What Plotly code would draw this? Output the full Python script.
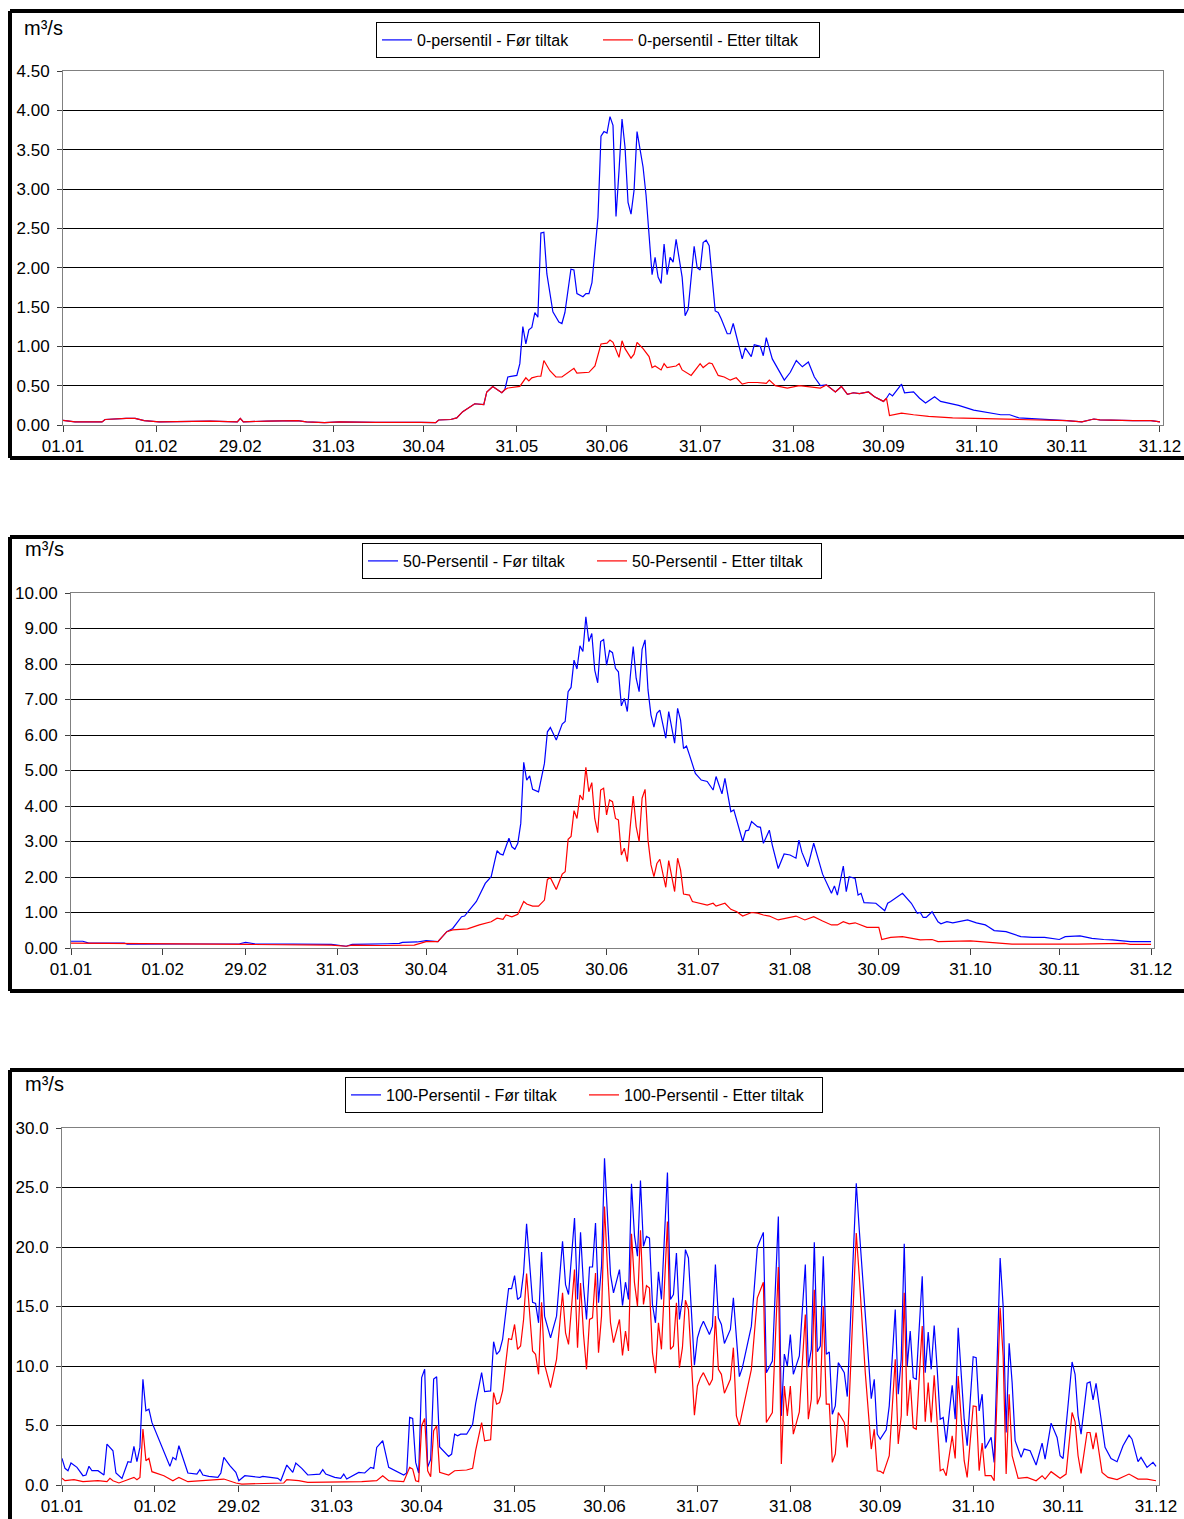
import plotly.graph_objects as go

W, H = 1184, 1519
FONT = "Liberation Sans, Arial, sans-serif"
BLUE = "#0000FF"
RED = "#FF0000"

tick_days = [0, 31, 59, 90, 120, 151, 181, 212, 243, 273, 304, 334, 365]
tick_labels = ["01.01", "01.02", "29.02", "31.03", "30.04", "31.05", "30.06",
               "31.07", "31.08", "30.09", "31.10", "30.11", "31.12"]

# ---------------- 0-persentil (day index, m3/s) ----------------
p0_shared_early = [(0, 0.06), (4, 0.04), (13, 0.04), (14, 0.07), (21, 0.085), (24, 0.085),
                   (27, 0.055), (32, 0.04), (49, 0.05), (55, 0.04), (58, 0.04), (59, 0.085),
                   (60, 0.04), (68, 0.05), (78, 0.055), (81, 0.04), (87, 0.03), (92, 0.04),
                   (100, 0.035), (104, 0.034), (119, 0.034), (124, 0.03), (125, 0.064),
                   (129, 0.07), (131, 0.09), (133, 0.17), (137, 0.27), (140, 0.26),
                   (141, 0.42), (143, 0.49), (146, 0.41), (147, 0.45)]
p0_before_late = [(148, 0.61), (151, 0.63), (152, 0.78), (153, 1.25), (154, 1.03), (155, 1.21),
                  (156, 1.24), (157, 1.43), (158, 1.37), (159, 2.44), (160, 2.45), (161, 1.92),
                  (163, 1.44), (165, 1.31), (166, 1.29), (167, 1.43), (169, 1.98), (170, 1.97),
                  (171, 1.67), (173, 1.63), (174, 1.67), (175, 1.67), (176, 1.81), (177, 2.19),
                  (178, 2.64), (179, 3.67), (180, 3.73), (181, 3.71), (182, 3.92), (183, 3.81),
                  (184, 2.65), (185, 3.23), (186, 3.89), (187, 3.53), (188, 2.83), (189, 2.68),
                  (190, 2.98), (191, 3.73), (193, 3.28), (194, 2.92), (195, 2.39), (196, 1.91),
                  (197, 2.13), (198, 1.88), (199, 1.80), (200, 2.30), (201, 1.91), (202, 2.13),
                  (203, 2.07), (204, 2.36), (206, 1.88), (207, 1.39), (208, 1.47), (209, 1.92),
                  (210, 2.27), (211, 2.00), (212, 1.97), (213, 2.32), (214, 2.35), (215, 2.28),
                  (217, 1.45), (218, 1.43), (219, 1.35), (221, 1.16), (222, 1.16), (223, 1.29),
                  (224, 1.14), (226, 0.84), (227, 0.98), (229, 0.87), (230, 1.02), (232, 1.00),
                  (233, 0.88), (234, 1.11), (236, 0.84), (240, 0.57), (242, 0.67), (244, 0.82),
                  (246, 0.74), (248, 0.80), (250, 0.61), (252, 0.50), (254, 0.51), (257, 0.42),
                  (259, 0.49), (261, 0.39), (263, 0.41), (265, 0.40), (268, 0.42), (270, 0.36),
                  (273, 0.30), (274, 0.34), (275, 0.40), (276, 0.37), (279, 0.52), (280, 0.41),
                  (283, 0.42), (285, 0.34), (287, 0.28), (290, 0.36), (292, 0.30), (298, 0.25),
                  (303, 0.19), (307, 0.16), (312, 0.13), (315, 0.13), (318, 0.09), (334, 0.055),
                  (339, 0.04), (343, 0.076), (345, 0.065), (356, 0.055), (362, 0.055), (365, 0.04)]
p0_after_late = [(148, 0.47), (152, 0.49), (154, 0.60), (155, 0.56), (156, 0.60), (158, 0.62),
                 (159, 0.62), (160, 0.82), (162, 0.69), (164, 0.61), (166, 0.61), (170, 0.72),
                 (171, 0.66), (175, 0.67), (177, 0.75), (179, 1.03), (181, 1.04), (182, 1.08),
                 (183, 1.05), (185, 0.86), (186, 1.07), (187, 0.97), (189, 0.85), (190, 0.90),
                 (191, 1.05), (193, 0.97), (195, 0.87), (196, 0.73), (197, 0.75), (199, 0.70),
                 (200, 0.78), (201, 0.73), (204, 0.75), (205, 0.78), (206, 0.70), (209, 0.63),
                 (211, 0.73), (212, 0.78), (213, 0.73), (215, 0.79), (216, 0.78), (218, 0.63),
                 (220, 0.61), (222, 0.57), (224, 0.60), (226, 0.52), (228, 0.54), (231, 0.54),
                 (234, 0.53), (235, 0.57), (237, 0.50), (241, 0.47), (245, 0.50), (250, 0.48),
                 (252, 0.47), (254, 0.51), (257, 0.42), (259, 0.49), (261, 0.39), (263, 0.41),
                 (265, 0.40), (268, 0.42), (270, 0.36), (273, 0.30), (274, 0.34), (275, 0.12),
                 (279, 0.15), (283, 0.13), (288, 0.11), (296, 0.09), (304, 0.085), (318, 0.07),
                 (334, 0.055), (339, 0.04), (343, 0.076), (345, 0.065), (356, 0.055),
                 (362, 0.055), (365, 0.04)]

# ---------------- 50-persentil ----------------
p50_before = [(0, 0.19), (4, 0.19), (6, 0.14), (18, 0.14), (19, 0.11), (57, 0.12), (59, 0.16),
              (62, 0.12), (88, 0.10), (93, 0.05), (95, 0.10), (100, 0.10), (107, 0.12),
              (111, 0.13), (112, 0.16), (117, 0.17), (120, 0.21), (124, 0.18), (127, 0.46),
              (129, 0.55), (132, 0.88), (133, 0.90), (137, 1.31), (140, 1.82), (142, 2.01),
              (144, 2.74), (145, 2.65), (146, 2.62), (148, 3.09), (149, 2.85), (150, 2.78),
              (151, 2.95), (152, 3.51), (153, 5.23), (154, 4.73), (155, 4.85), (156, 4.47),
              (158, 4.40), (160, 5.20), (161, 6.09), (162, 6.21), (164, 5.86), (165, 6.09),
              (166, 6.31), (167, 6.38), (168, 7.22), (169, 7.34), (170, 8.11), (171, 7.86),
              (172, 8.51), (173, 8.35), (174, 9.33), (175, 8.63), (176, 8.86), (177, 7.83),
              (178, 7.47), (179, 8.63), (180, 8.69), (181, 7.97), (182, 8.38), (183, 8.32),
              (184, 7.88), (185, 7.78), (186, 6.82), (187, 7.03), (188, 6.66), (189, 7.64),
              (190, 8.49), (191, 7.60), (192, 7.22), (193, 8.41), (194, 8.68), (195, 7.27),
              (196, 6.56), (197, 6.22), (198, 6.61), (199, 6.70), (200, 6.28), (201, 5.91),
              (202, 6.66), (203, 6.23), (204, 5.77), (205, 6.75), (206, 6.42), (207, 5.62),
              (208, 5.69), (209, 5.44), (211, 4.92), (213, 4.73), (215, 4.69), (217, 4.45),
              (218, 4.83), (220, 4.34), (221, 4.78), (223, 3.84), (224, 3.89), (227, 3.00),
              (228, 3.30), (229, 3.32), (230, 3.56), (232, 3.42), (233, 3.40), (234, 2.95),
              (236, 3.32), (237, 2.90), (239, 2.24), (241, 2.65), (243, 2.62), (245, 2.53),
              (246, 3.04), (247, 2.70), (249, 2.29), (251, 2.95), (254, 2.08), (257, 1.54),
              (258, 1.75), (259, 1.49), (261, 2.31), (262, 1.59), (263, 2.01), (265, 1.96),
              (266, 1.49), (267, 1.54), (268, 1.28), (272, 1.26), (275, 1.05), (276, 1.26),
              (277, 1.31), (281, 1.54), (284, 1.26), (286, 0.98), (287, 1.00), (288, 0.86),
              (289, 0.86), (291, 1.02), (292, 0.88), (293, 0.74), (294, 0.68), (296, 0.74),
              (298, 0.71), (301, 0.77), (303, 0.79), (306, 0.71), (309, 0.65), (310, 0.60),
              (312, 0.49), (316, 0.46), (318, 0.41), (321, 0.32), (325, 0.30), (329, 0.30),
              (334, 0.24), (336, 0.32), (341, 0.34), (345, 0.27), (349, 0.24), (352, 0.23),
              (358, 0.18), (365, 0.18)]
p50_after = [(0, 0.14), (30, 0.11), (60, 0.10), (88, 0.08), (93, 0.05), (95, 0.08), (105, 0.07),
             (116, 0.08), (120, 0.18), (124, 0.18), (127, 0.46), (129, 0.51), (134, 0.54),
             (138, 0.65), (142, 0.74), (144, 0.84), (146, 0.81), (147, 0.93), (149, 0.88),
             (151, 0.95), (153, 1.31), (154, 1.24), (156, 1.18), (158, 1.18), (160, 1.35),
             (161, 1.93), (162, 1.98), (164, 1.65), (166, 2.08), (167, 2.15), (168, 3.06),
             (169, 3.14), (170, 3.87), (171, 3.65), (172, 4.31), (173, 4.17), (174, 5.09),
             (175, 4.40), (176, 4.66), (177, 3.65), (178, 3.25), (179, 4.45), (180, 4.50),
             (181, 3.75), (182, 4.17), (183, 4.12), (184, 3.65), (185, 3.61), (186, 2.62),
             (187, 2.81), (188, 2.43), (189, 3.42), (190, 4.28), (191, 3.42), (192, 3.00),
             (193, 4.22), (194, 4.47), (195, 3.04), (196, 2.34), (197, 2.01), (198, 2.38),
             (199, 2.50), (200, 2.10), (201, 1.71), (202, 2.46), (203, 2.06), (204, 1.59),
             (205, 2.53), (206, 2.20), (207, 1.52), (209, 1.49), (210, 1.31), (214, 1.24),
             (215, 1.21), (217, 1.26), (218, 1.18), (221, 1.26), (223, 1.09), (225, 1.02),
             (227, 0.90), (230, 1.00), (232, 0.98), (234, 0.93), (236, 0.90), (239, 0.79),
             (242, 0.84), (245, 0.90), (248, 0.79), (251, 0.88), (254, 0.76), (257, 0.65),
             (259, 0.65), (261, 0.74), (263, 0.68), (265, 0.71), (269, 0.58), (273, 0.58),
             (274, 0.24), (277, 0.30), (281, 0.32), (287, 0.23), (291, 0.24), (293, 0.18),
             (304, 0.20), (311, 0.15), (318, 0.11), (340, 0.11), (356, 0.13), (358, 0.10),
             (365, 0.10)]

# ---------------- 100-persentil ----------------
p100_before = [(0, 2.24), (1, 1.40), (2, 1.20), (3, 1.85), (5, 1.48), (7, 0.78), (8, 0.84),
               (9, 1.57), (10, 1.20), (12, 1.20), (14, 0.84), (15, 3.44), (17, 2.88), (18, 1.01),
               (20, 0.56), (22, 1.96), (23, 1.90), (24, 3.24), (25, 1.96), (26, 3.16), (27, 8.89),
               (28, 6.23), (29, 6.37), (30, 5.26), (36, 1.57), (37, 2.32), (38, 2.12), (39, 3.30),
               (42, 1.01), (45, 0.92), (46, 1.29), (47, 0.84), (49, 0.73), (52, 0.64), (53, 1.01),
               (54, 2.32), (56, 1.62), (58, 1.06), (59, 0.36), (61, 0.78), (66, 0.64), (67, 0.73),
               (72, 0.56), (73, 0.36), (75, 1.68), (77, 1.06), (78, 1.85), (80, 1.40), (82, 0.84),
               (86, 0.92), (87, 1.29), (88, 0.92), (91, 0.64), (93, 0.56), (94, 0.92), (95, 0.50),
               (99, 1.06), (101, 1.01), (103, 1.48), (104, 1.40), (105, 3.16), (107, 3.72),
               (109, 1.48), (114, 0.84), (115, 1.01), (116, 5.68), (117, 5.59), (118, 1.90),
               (119, 1.01), (120, 9.03), (121, 9.73), (122, 1.50), (123, 2.15), (124, 8.90),
               (125, 9.10), (126, 3.20), (129, 2.40), (130, 2.60), (131, 4.27), (132, 4.13),
               (133, 4.27), (135, 4.27), (137, 5.11), (138, 6.84), (140, 9.44), (141, 7.85),
               (143, 7.91), (144, 12.04), (145, 10.98), (146, 11.26), (147, 12.23), (149, 16.51),
               (150, 16.51), (151, 17.60), (152, 15.59), (153, 15.81), (154, 17.82), (155, 21.96),
               (157, 15.36), (158, 15.25), (159, 13.63), (160, 19.58), (161, 14.19), (163, 12.37),
               (165, 14.19), (167, 20.47), (168, 16.84), (169, 16.01), (171, 22.43), (172, 15.59),
               (173, 21.23), (174, 16.70), (175, 13.91), (176, 18.32), (177, 18.32), (178, 22.01),
               (179, 15.31), (180, 18.38), (181, 27.46), (182, 22.85), (183, 17.68), (184, 16.15),
               (186, 18.10), (187, 15.08), (188, 17.04), (189, 15.59), (190, 25.31), (191, 20.95),
               (192, 19.22), (193, 25.59), (194, 20.06), (195, 20.89), (196, 20.75), (197, 15.17),
               (198, 13.63), (199, 17.91), (200, 15.59), (201, 20.89), (202, 26.26), (203, 15.59),
               (204, 16.01), (205, 19.50), (206, 13.91), (207, 15.64), (208, 19.78), (209, 19.08),
               (210, 14.75), (211, 10.06), (212, 12.37), (213, 13.21), (214, 13.77), (216, 12.65),
               (217, 13.35), (218, 18.52), (219, 14.05), (220, 13.49), (221, 11.90), (223, 13.07),
               (224, 15.73), (226, 9.11), (227, 9.86), (229, 12.23), (230, 13.35), (232, 20.00),
               (234, 21.23), (235, 9.44), (237, 10.42), (239, 22.57), (240, 5.81), (241, 11.00),
               (242, 10.00), (243, 12.65), (244, 9.30), (246, 10.84), (247, 14.50), (248, 18.52),
               (249, 9.90), (250, 11.40), (251, 20.40), (252, 11.20), (253, 11.68), (254, 19.22),
               (255, 10.98), (256, 11.17), (257, 5.95), (258, 6.65), (259, 10.28), (261, 9.44),
               (262, 7.43), (263, 13.35), (264, 18.38), (265, 25.36), (266, 21.45), (268, 13.91),
               (270, 7.26), (271, 8.88), (272, 4.27), (273, 3.85), (275, 4.64), (276, 6.65),
               (278, 14.75), (279, 7.63), (280, 10.56), (281, 20.28), (282, 10.00), (283, 12.93),
               (284, 9.02), (285, 8.88), (287, 17.54), (288, 9.44), (289, 12.85), (290, 9.72),
               (291, 13.41), (292, 9.72), (293, 5.53), (294, 5.67), (295, 3.58), (297, 8.38),
               (298, 5.53), (299, 13.21), (301, 5.53), (302, 3.30), (304, 10.78), (305, 10.70),
               (306, 6.23), (307, 7.63), (308, 3.07), (310, 4.00), (311, 1.90), (313, 19.08),
               (314, 15.03), (315, 4.41), (316, 11.90), (317, 8.60), (318, 3.72), (320, 2.32),
               (321, 3.02), (323, 2.88), (324, 2.32), (325, 1.68), (327, 3.52), (328, 2.18),
               (330, 5.20), (332, 4.00), (333, 2.46), (334, 2.23), (337, 10.34), (338, 9.30),
               (339, 5.81), (340, 4.27), (342, 8.55), (343, 8.66), (344, 7.15), (345, 8.55),
               (348, 3.16), (350, 2.23), (352, 1.96), (354, 3.30), (356, 4.19), (357, 3.85),
               (359, 1.96), (360, 2.32), (362, 1.48), (364, 1.90), (365, 1.56)]
p100_after = [(0, 0.56), (1, 0.36), (4, 0.45), (7, 0.28), (12, 0.36), (15, 0.28), (16, 0.56),
              (17, 0.36), (19, 0.17), (22, 0.45), (24, 0.64), (25, 0.45), (26, 0.64), (27, 4.70),
              (28, 2.04), (29, 2.24), (30, 1.12), (34, 0.78), (37, 0.36), (38, 0.50), (39, 0.64),
              (42, 0.28), (54, 0.50), (58, 0.17), (60, 0.08), (74, 0.17), (75, 0.45), (79, 0.36),
              (82, 0.22), (100, 0.28), (105, 0.36), (107, 0.78), (109, 0.36), (114, 0.28),
              (116, 1.48), (117, 1.34), (118, 0.36), (119, 0.28), (120, 4.98), (121, 5.59),
              (122, 1.20), (123, 0.70), (124, 4.56), (125, 4.98), (126, 1.06), (129, 0.84),
              (131, 1.20), (135, 1.26), (137, 1.40), (138, 2.88), (140, 5.25), (141, 3.72),
              (143, 3.80), (144, 7.77), (145, 6.79), (146, 6.93), (147, 7.91), (149, 12.29),
              (150, 12.23), (151, 13.49), (152, 11.40), (153, 11.68), (154, 13.91), (155, 17.77),
              (157, 11.26), (158, 10.98), (159, 9.30), (160, 15.36), (161, 10.14), (163, 8.18),
              (165, 10.56), (167, 16.15), (168, 12.79), (169, 11.82), (171, 18.10), (172, 11.54),
              (173, 16.98), (174, 12.65), (175, 9.72), (176, 13.91), (177, 14.05), (178, 17.82),
              (179, 11.12), (180, 14.19), (181, 23.41), (182, 18.24), (183, 13.63), (184, 11.96),
              (186, 13.91), (187, 10.89), (188, 12.93), (189, 11.26), (190, 21.12), (191, 16.98),
              (192, 15.03), (193, 21.40), (194, 15.17), (195, 16.76), (196, 16.56), (197, 11.12),
              (198, 9.39), (199, 13.63), (200, 11.40), (201, 16.70), (202, 22.15), (203, 11.40),
              (204, 11.68), (205, 15.31), (206, 9.86), (207, 11.54), (208, 15.53), (209, 14.75),
              (210, 10.42), (211, 5.87), (212, 8.32), (213, 9.02), (214, 9.44), (216, 8.38),
              (217, 8.88), (218, 14.19), (219, 9.72), (220, 9.30), (221, 7.71), (223, 8.88),
              (224, 11.54), (225, 5.81), (226, 4.97), (228, 7.35), (230, 9.72), (232, 15.73),
              (234, 17.04), (235, 5.25), (237, 6.09), (239, 18.32), (240, 1.76), (241, 8.32),
              (242, 5.81), (243, 8.32), (244, 4.27), (246, 6.15), (248, 14.33), (249, 5.53),
              (250, 7.20), (251, 16.40), (252, 6.79), (253, 7.49), (254, 15.03), (255, 6.79),
              (256, 6.79), (257, 1.90), (258, 2.60), (259, 6.09), (261, 5.25), (262, 3.16),
              (263, 9.44), (264, 15.59), (265, 21.17), (266, 17.54), (268, 9.44), (270, 3.02),
              (271, 4.69), (272, 1.20), (273, 1.15), (274, 0.98), (276, 2.46), (278, 10.56),
              (279, 3.44), (280, 5.81), (281, 16.15), (282, 5.81), (283, 8.83), (284, 4.83),
              (285, 4.69), (287, 13.35), (288, 5.31), (289, 8.60), (290, 5.25), (291, 9.22),
              (292, 5.25), (293, 1.20), (294, 1.34), (295, 0.78), (297, 4.13), (298, 2.23),
              (299, 9.16), (301, 2.04), (302, 0.64), (304, 6.65), (305, 6.59), (306, 1.20),
              (307, 3.52), (308, 0.78), (310, 0.78), (311, 0.36), (313, 14.89), (314, 10.84),
              (315, 0.92), (316, 7.63), (317, 2.46), (319, 0.56), (322, 0.64), (325, 0.36),
              (327, 0.78), (328, 0.50), (330, 1.12), (333, 0.56), (335, 0.92), (337, 6.09),
              (338, 5.31), (339, 2.46), (340, 0.98), (342, 4.41), (343, 4.41), (344, 3.02),
              (345, 4.41), (347, 1.06), (349, 0.64), (352, 0.45), (356, 0.92), (357, 0.78),
              (359, 0.50), (362, 0.50), (365, 0.36)]

p0_before = p0_shared_early + p0_before_late
p0_after = p0_shared_early + p0_after_late

names = [("0-persentil - Før tiltak", "0-persentil - Etter tiltak"),
         ("50-Persentil - Før tiltak", "50-Persentil - Etter tiltak"),
         ("100-Persentil - Før tiltak", "100-Persentil - Etter tiltak")]
series = [(p0_before, p0_after), (p50_before, p50_after), (p100_before, p100_after)]


def fx(x):
    return x / W


def fy(y):
    return 1 - y / H


# layout geometry of the three chart boxes (pixels)
panels = [
    dict(px0=63, px1=1163, py0=71, py1=425, ymax=4.5, dtick=0.5, fmt=".2f",
         frame=(10, 11, 458), unit=(22, 28), leg=(598, 40), ew=176),
    dict(px0=71, px1=1154, py0=593, py1=948, ymax=10, dtick=1, fmt=".2f",
         frame=(10, 537, 991), unit=(23, 549), leg=(592, 561), ew=184),
    dict(px0=62, px1=1159, py0=1128, py1=1485, ymax=30, dtick=5, fmt=".1f",
         frame=(10, 1070, None), unit=(23, 1084), leg=(584, 1095), ew=193),
]

fig = go.Figure()
layout = dict(width=W, height=H, margin=dict(l=0, r=0, t=0, b=0, pad=0), autosize=False,
              paper_bgcolor="white", plot_bgcolor="white", shapes=[], annotations=[],
              font=dict(family=FONT, color="black"), showlegend=True)

for i, (p, (b, a), (nb, na)) in enumerate(zip(panels, series, names)):
    n = "" if i == 0 else str(i + 1)
    legname = "legend" + n
    for data, nm, col in ((b, nb, BLUE), (a, na, RED)):
        fig.add_trace(go.Scatter(
            x=[d for d, v in data], y=[v for d, v in data], mode="lines", name=nm,
            line=dict(color=col, width=1.2), xaxis="x" + n, yaxis="y" + n,
            legend=legname, hoverinfo="skip"))
    layout["xaxis" + n] = dict(
        domain=[fx(p["px0"]), fx(p["px1"])], anchor="y" + n, range=[0, 366],
        tickmode="array", tickvals=tick_days, ticktext=tick_labels,
        ticks="outside", ticklen=6, tickcolor="#404040", tickwidth=1,
        showline=True, linecolor="#808080", linewidth=1, mirror=True,
        showgrid=False, zeroline=False, automargin=False,
        tickfont=dict(family=FONT, size=17, color="black"))
    layout["yaxis" + n] = dict(
        domain=[fy(p["py1"]), fy(p["py0"])], anchor="x" + n, range=[0, p["ymax"]],
        dtick=p["dtick"], tick0=0, tickformat=p["fmt"],
        ticks="outside", ticklen=5, tickcolor="#404040", tickwidth=1, ticklabelstandoff=4,
        showline=True, linecolor="#808080", linewidth=1, mirror=True,
        showgrid=True, gridcolor="#000000", gridwidth=1, zeroline=False, automargin=False,
        tickfont=dict(family=FONT, size=17, color="black"))
    layout[legname] = dict(
        orientation="h", x=fx(p["leg"][0]), y=fy(p["leg"][1]), xanchor="center",
        yanchor="middle", bgcolor="white", bordercolor="black", borderwidth=1,
        entrywidth=p["ew"], entrywidthmode="pixels",
        font=dict(family=FONT, size=16, color="black"))
    fl, ft, fb = p["frame"]
    bottom = fb if fb is not None else H
    frame_lines = [(fl, ft, W, ft), (fl, ft, fl, bottom)]
    if fb is not None:
        frame_lines.append((fl, fb, W, fb))
    for (xa, ya, xb, yb) in frame_lines:
        layout["shapes"].append(dict(type="line", xref="paper", yref="paper",
                                     x0=fx(xa), x1=fx(xb), y0=fy(ya), y1=fy(yb),
                                     line=dict(color="black", width=4)))
    layout["annotations"].append(dict(text="m³/s", xref="paper", yref="paper",
                                      x=fx(p["unit"][0]), y=fy(p["unit"][1]),
                                      xanchor="left", yanchor="middle", showarrow=False,
                                      font=dict(family=FONT, size=20, color="black")))

fig.update_layout(**layout)
fig.write_html(
    "out.html",
    post_script=("document.documentElement.style.margin='0';"
                 "document.body.style.margin='0';"
                 "document.body.style.overflow='hidden';"
                 "document.documentElement.style.overflow='hidden';"))
